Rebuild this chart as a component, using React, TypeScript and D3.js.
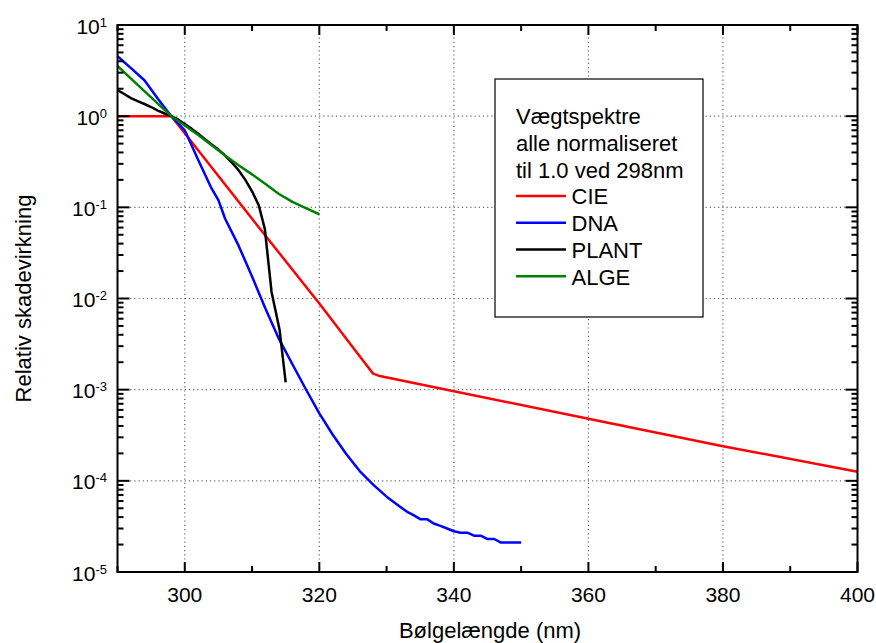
import React from "react";
import * as d3 from "d3";

const cieNm = [290, 298, 300, 310, 320, 327, 328, 329, 340, 360, 380, 400];
const cieVal = [1, 1, 0.65, 0.075, 0.0088, 0.00186, 0.0015, 0.00141, 0.00096, 0.00048, 0.00024, 0.000126];

const dnaNm = [290, 292, 294, 296, 298, 300, 302, 304, 305, 306, 308, 310, 312, 314, 316, 318, 320, 322, 324, 326, 328, 330, 331, 332, 333, 334, 335, 336, 337, 338, 339, 340, 341, 342, 343, 344, 345, 346, 347, 348, 349, 350];
const dnaVal = [4.55, 3.36, 2.48, 1.55, 1.0, 0.7, 0.33, 0.16, 0.12, 0.075, 0.038, 0.0174, 0.0077, 0.0036, 0.0019, 0.00101, 0.00055, 0.00032, 0.000197, 0.000128, 0.000091, 0.000067, 0.000059, 0.000052, 0.000046, 0.000042, 0.000038, 0.000038, 0.000034, 0.000032, 0.00003, 0.000028, 0.000027, 0.000027, 0.000025, 0.000025, 0.000023, 0.000023, 0.000021, 0.000021, 0.000021, 0.000021];

const plantNm = [290, 291, 292, 293, 294, 295, 296, 297, 298, 299, 300, 301, 302, 303, 304, 305, 306, 307, 308, 309, 310, 311, 311.9, 312.9, 314.1, 315];
const plantVal = [1.93, 1.75, 1.58, 1.46, 1.36, 1.26, 1.15, 1.07, 1.0, 0.92, 0.82, 0.73, 0.64, 0.56, 0.49, 0.43, 0.37, 0.31, 0.255, 0.2, 0.15, 0.105, 0.058, 0.0118, 0.0045, 0.0012];

const algeNm = [290, 292, 294, 296, 298, 300, 302, 304, 306, 308, 310, 312, 314, 316, 318, 320];
const algeVal = [3.55, 2.58, 1.88, 1.37, 1.0, 0.79, 0.62, 0.48, 0.37, 0.29, 0.23, 0.18, 0.14, 0.115, 0.098, 0.084];

const seriesNames = ["CIE", "DNA", "PLANT", "ALGE"];
const seriesColors = ["#ff0000", "#0000ff", "#000000", "#008000"];
const legendTitle = ["Vægtspektre", "alle normaliseret", "til 1.0 ved 298nm"];

const xTicks = [300, 320, 340, 360, 380, 400];
const yExponents = [1, 0, -1, -2, -3, -4, -5];

const FONT = "'Liberation Sans', Arial, Helvetica, sans-serif";

export default function App() {
  const W = 876, H = 643;
  const left = 117.5, right = 857.5, top = 25, bottom = 572;
  const x = d3.scaleLinear().domain([290, 400]).range([left, right]);
  const y = d3.scaleLog().domain([1e-5, 10]).range([bottom, top]);

  const series = [
    cieNm.map((n, i) => [n, cieVal[i]]),
    dnaNm.map((n, i) => [n, dnaVal[i]]),
    plantNm.map((n, i) => [n, plantVal[i]]),
    algeNm.map((n, i) => [n, algeVal[i]]),
  ];
  const line = d3.line<number[]>().x((d) => x(d[0])).y((d) => y(d[1]));

  const xMinor = d3.range(290, 401, 10);
  const yMinor: number[] = [];
  for (let e = -5; e < 1; e++) for (let k = 2; k <= 9; k++) yMinor.push(k * Math.pow(10, e));

  const gridX = [300, 320, 340, 360, 380];
  const gridY = [0, -1, -2, -3, -4].map((e) => Math.pow(10, e));

  const legX = 495, legY = 79, legW = 208, legH = 238;
  const lineH = 26.8;
  const firstBase = 124;

  return (
    <svg width={W} height={H} style={{ position: "absolute", left: 0, top: 0, background: "#fff" }} fontFamily={FONT}>
      <rect x={0} y={0} width={W} height={H} fill="#fff" />
      <defs>
        <clipPath id="plotclip">
          <rect x={left} y={top} width={right - left} height={bottom - top} />
        </clipPath>
      </defs>
      {gridX.map((v) => (
        <line key={"gx" + v} x1={x(v)} x2={x(v)} y1={top} y2={bottom} stroke="#666" strokeWidth={1.2} strokeDasharray="1.2,3" />
      ))}
      {gridY.map((v) => (
        <line key={"gy" + v} x1={left} x2={right} y1={y(v)} y2={y(v)} stroke="#666" strokeWidth={1.2} strokeDasharray="1.2,3" />
      ))}
      <rect x={legX} y={legY} width={legW} height={legH} fill="#fff" stroke="#000" strokeWidth={1.2} />
      {legendTitle.map((t, i) => (
        <text key={t} x={516} y={firstBase + i * lineH} fontSize={22} fill="#000">{t}</text>
      ))}
      {seriesNames.map((n, i) => {
        const by = firstBase + (i + 3) * lineH;
        return (
          <g key={n}>
            <line x1={516} x2={566} y1={by - 8.5} y2={by - 8.5} stroke={seriesColors[i]} strokeWidth={2.5} />
            <text x={571.5} y={by} fontSize={22} fill="#000">{n}</text>
          </g>
        );
      })}
      <g clipPath="url(#plotclip)">
        {series.map((s, i) => (
          <path key={i} d={line(s as number[][]) || ""} fill="none" stroke={seriesColors[i]} strokeWidth={2.5} strokeLinejoin="round" />
        ))}
      </g>
      <rect x={left} y={top} width={right - left} height={bottom - top} fill="none" stroke="#000" strokeWidth={2} />
      {xMinor.map((v) => {
        const major = v % 20 === 0;
        const len = major ? 10 : 6;
        return (
          <g key={"xt" + v}>
            <line x1={x(v)} x2={x(v)} y1={bottom} y2={bottom - len} stroke="#000" strokeWidth={2} />
            <line x1={x(v)} x2={x(v)} y1={top} y2={top + len} stroke="#000" strokeWidth={2} />
          </g>
        );
      })}
      {yExponents.map((e) => (
        <g key={"ym" + e}>
          <line x1={left} x2={left + 12} y1={y(Math.pow(10, e))} y2={y(Math.pow(10, e))} stroke="#000" strokeWidth={2} />
          <line x1={right} x2={right - 12} y1={y(Math.pow(10, e))} y2={y(Math.pow(10, e))} stroke="#000" strokeWidth={2} />
        </g>
      ))}
      {yMinor.map((v, i) => (
        <g key={"yn" + i}>
          <line x1={left} x2={left + 6} y1={y(v)} y2={y(v)} stroke="#000" strokeWidth={2} />
          <line x1={right} x2={right - 6} y1={y(v)} y2={y(v)} stroke="#000" strokeWidth={2} />
        </g>
      ))}
      {xTicks.map((v) => (
        <text key={"xl" + v} x={x(v)} y={601.5} fontSize={21} textAnchor="middle" fill="#000">{v}</text>
      ))}
      {yExponents.map((e) => (
        <text key={"yl" + e} x={107} y={y(Math.pow(10, e)) + 8.5} fontSize={21} textAnchor="end" fill="#000">
          10<tspan fontSize={13} dy={-7}>{e}</tspan>
        </text>
      ))}
      <text x={490} y={638} fontSize={22} textAnchor="middle" fill="#000">Bølgelængde (nm)</text>
      <text transform={`translate(31,298.5) rotate(-90)`} fontSize={22} textAnchor="middle" fill="#000">Relativ skadevirkning</text>
    </svg>
  );
}
